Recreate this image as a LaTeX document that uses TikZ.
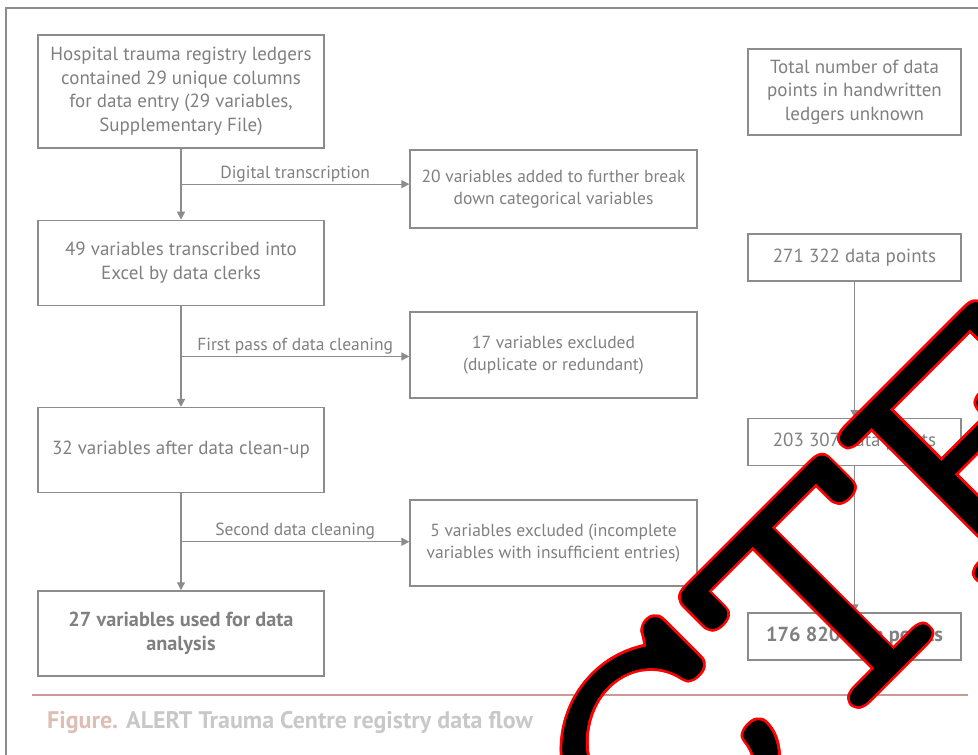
\documentclass[tikz,border=0pt]{standalone}
\usepackage{fontspec}
\setmainfont{PT Sans}
\newfontfamily\stampfont{lmmonolt10-regular.otf}
\usetikzlibrary{positioning,arrows.meta,calc}
\definecolor{linegray}{HTML}{8C8C8C}
\definecolor{textgray}{HTML}{808080}
\definecolor{rulered}{HTML}{C99A96}
\definecolor{capred}{HTML}{DDBDB4}
\definecolor{capgray}{HTML}{C8C8C8}
\tikzset{
  box/.style={draw=linegray,line width=1.3pt,fill=white,align=center,text=textgray,inner sep=2pt,font=\fontsize{19}{23.5}\selectfont,minimum width=286pt},
  sidebox/.style={box,minimum width=287pt,minimum height=84pt,font=\fontsize{17.5}{22}\selectfont},
  countbox/.style={box,minimum width=213pt,minimum height=47pt},
  strong/.style={font=\bfseries\fontsize{20.3}{24}\selectfont},
  arrow/.style={-{Triangle[length=8pt,width=8pt]},draw=linegray,line width=1.3pt},
  thinarrow/.style={arrow,line width=0.9pt},
  edgelabel/.style={font=\fontsize{17.5}{20}\selectfont,text=textgray,above,inner sep=1.5pt},
  stamp/.style={font=\stampfont\fontsize{381}{381}\selectfont,inner sep=0pt,anchor=base west,rotate=45,xscale=1.128,yscale=0.88}
}
\begin{document}
\begin{tikzpicture}[x=1pt,y=-1pt]
  \useasboundingbox (0,0) rectangle (978,755);
  % outer frame
  \begin{scope}
    \clip (0,0) rectangle (978,755);
    \draw[linegray,line width=2pt] (6,8) rectangle (1000,780);
  \end{scope}
  % variables column
  \node[box,minimum height=113pt] (ledgers) at (181,91.5) {Hospital trauma registry ledgers\\contained 29 unique columns\\for data entry (29 variables,\\Supplementary File)};
  \node[box,minimum height=85pt,below=71pt of ledgers] (transcribed) {49 variables transcribed into\\Excel by data clerks};
  \node[box,minimum height=85pt,below=101pt of transcribed] (cleaned) {32 variables after data clean-up};
  \node[box,strong,minimum height=85pt,below=97pt of cleaned] (analysis) {27 variables used for data\\analysis};
  % side boxes
  \node[sidebox,minimum height=78pt] (added) at (553.5,189) {20 variables added to further break\\down categorical variables};
  \node[sidebox,minimum height=86pt] (duplicates) at (553.5,355) {17 variables excluded\\(duplicate or redundant)};
  \node[sidebox,minimum height=86pt] (incomplete) at (553.5,543) {5 variables excluded (incomplete\\variables with insufficient entries)};
  % data points column
  \node[countbox,minimum height=86pt] (unknown) at (854.5,92) {Total number of data\\points in handwritten\\ledgers unknown};
  \node[countbox] (points1) at (854.5,257.5) {271 322 data points};
  \node[countbox] (points2) at (854.5,442) {203 307 data points};
  \node[countbox,strong] (points3) at (854.5,636.5) {176 820 data points};
  % connectors
  \draw[arrow] (ledgers) -- (transcribed);
  \draw[arrow] (transcribed) -- (cleaned);
  \draw[arrow] (cleaned) -- (analysis);
  \coordinate (split1) at ($(ledgers.south)!0.5!(transcribed.north)$);
  \coordinate (split2) at ($(transcribed.south)!0.5!(cleaned.north)$);
  \coordinate (split3) at ($(cleaned.south)!0.5!(analysis.north)$);
  \draw[arrow] (split1) -- node[edgelabel] {Digital transcription} (split1 -| added.west);
  \draw[arrow] (split2) -- node[edgelabel] {First pass of data cleaning} (split2 -| duplicates.west);
  \draw[arrow] (split3) -- node[edgelabel] {Second data cleaning} (split3 -| incomplete.west);
  \draw[thinarrow] (points1) -- (points2);
  \draw[thinarrow] (points2) -- (points3);
  % caption
  \draw[rulered,line width=2pt] (32,695) -- (968,695);
  \node[anchor=west,inner sep=0pt,font=\bfseries\fontsize{24}{28}\selectfont] (caption) at (47,722) {\textcolor{capred}{Figure.} \textcolor{capgray}{ALERT Trauma Centre registry data flow}};
  % stamp
  \begin{scope}
    \clip (0,0) rectangle (978,755);
    \coordinate (stampbase) at (-141,1708);
    \foreach \ang in {0,15,...,345}
      \node[stamp,text=red] (red\ang) at ($(stampbase)+(\ang:5pt)$) {RETRACTED};
    \foreach \ang in {0,15,...,345}
      \node[stamp,text=black] (black\ang) at ($(stampbase)+(\ang:2pt)$) {RETRACTED};
    \node[stamp,text=black] (stamp) at (stampbase) {RETRACTED};
  \end{scope}
\end{tikzpicture}
\end{document}
